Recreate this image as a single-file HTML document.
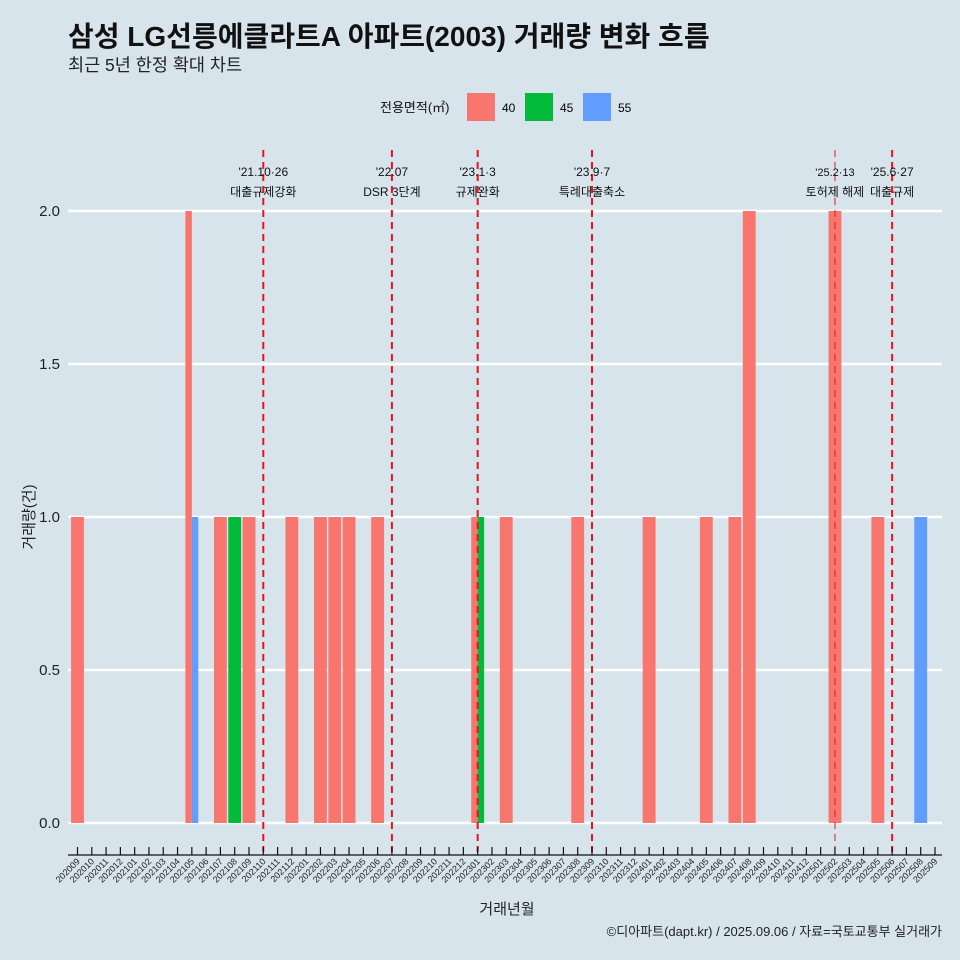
<!DOCTYPE html>
<html><head><meta charset="utf-8"><style>
html,body{margin:0;padding:0;width:960px;height:960px;overflow:hidden;background:#d7e4eb;font-family:"Liberation Sans","Noto Sans CJK KR",sans-serif}
svg{display:block}
svg text{font-family:"Liberation Sans","Noto Sans CJK KR",sans-serif}
</style></head><body>
<svg id="chart" width="960" height="960" viewBox="0 0 960 960">
<rect width="960" height="960" fill="#d7e4eb"/>
<text x="68" y="46" font-size="28" font-weight="bold" fill="#111">삼성 LG선릉에클라트A 아파트(2003) 거래량 변화 흐름</text>
<text x="68" y="71" font-size="17.5" fill="#222">최근 5년 한정 확대 차트</text>
<g>
<text x="380" y="112" font-size="13" fill="#111">전용면적(㎡)</text>
<g><rect x="467" y="93" width="28" height="28" fill="#f8766d"/><text x="502" y="112" font-size="12">40</text></g>
<g><rect x="525" y="93" width="28" height="28" fill="#00ba38"/><text x="560" y="112" font-size="12">45</text></g>
<g><rect x="583" y="93" width="28" height="28" fill="#619cff"/><text x="618" y="112" font-size="12">55</text></g>
</g>
<g id="grid"></g><g id="bars"></g><g id="events"></g><g id="xaxis"></g>
<text x="507" y="914" font-size="15" text-anchor="middle" fill="#222">거래년월</text>
<text transform="translate(34,517) rotate(-90)" font-size="15" text-anchor="middle" fill="#222">거래량(건)</text>
<text x="942" y="936" font-size="13" text-anchor="end" fill="#222">©디아파트(dapt.kr) / 2025.09.06 / 자료=국토교통부 실거래가</text>
</svg>
<script>
const months=[];for(let y=2020,m=9;!(y===2025&&m===10);){months.push(''+y+(m<10?'0':'')+m);m++;if(m>12){m=1;y++;}}
const yTicks=[0,0.5,1,1.5,2];
const barMonths=['202009','202105','202105','202107','202108','202109','202112','202202','202203','202204','202206','202301','202301','202303','202308','202401','202405','202407','202408','202502','202505','202508'];
const barSizes=['40','40','55','40','45','40','40','40','40','40','40','40','45','40','40','40','40','40','40','40','40','55'];
const barCounts=[1,2,1,1,1,1,1,1,1,1,1,1,1,1,1,1,1,1,2,2,1,1];
const eventMonths=['202110','202207','202301','202309','202502','202506'];
const eventDates=["'21.10·26","'22.07","'23.1·3","'23.9·7","'25.2·13","'25.6·27"];
const eventLabels=['대출규제강화','DSR 3단계','규제완화','특례대출축소','토허제 해제','대출규제'];
const colors={'40':'#f8766d','45':'#00ba38','55':'#619cff'};
const NS='http://www.w3.org/2000/svg';
const x0=77.5,step=(935-77.5)/60;
const xs=m=>x0+months.indexOf(m)*step;
const ys=v=>823-v*306;
function mk(t,a,p){const e=document.createElementNS(NS,t);for(const k in a)e.setAttribute(k,a[k]);p.appendChild(e);return e;}
const grid=document.getElementById('grid');
yTicks.forEach(v=>{
 const l=mk('line',{x1:68,x2:942,y1:ys(v),y2:ys(v),stroke:'#fff','stroke-width':2.5},grid);
 
 
 const t=mk('text',{x:60,y:ys(v)+5,'font-size':15,'text-anchor':'end',fill:'#222'},grid);
 t.textContent=v.toFixed(1);
 
 
});
const bars=document.getElementById('bars');
const bw=step*0.9;
barMonths.forEach((m,i)=>{
 const group=barMonths.map((mm,j)=>j).filter(j=>barMonths[j]===m);
 const n=group.length,k=group.indexOf(i),w=bw/n;
 const r=mk('rect',{x:xs(m)-bw/2+k*w,y:ys(barCounts[i]),width:w,height:ys(0)-ys(barCounts[i]),fill:colors[barSizes[i]]},bars);
 
 
});
const ev=document.getElementById('events');
eventMonths.forEach((m,i)=>{
 const x=xs(m);
 const l=mk('line',{x1:x,x2:x,y1:150,y2:852,stroke:'#e8141c','stroke-width':m==='202502'?1:2,'stroke-dasharray':'7,5'},ev);
 
 
 const t1=mk('text',{x:x,y:176,'font-size':m==='202502'?11:12,'text-anchor':'middle',fill:'#111'},ev);
 t1.textContent=eventDates[i];
 
 
 const t2=mk('text',{x:x,y:196,'font-size':12,'text-anchor':'middle',fill:'#111'},ev);
 t2.textContent=eventLabels[i];
 
 
});
const xa=document.getElementById('xaxis');
const al=mk('line',{x1:68,x2:942,y1:855,y2:855,stroke:'#111','stroke-width':1.2},xa);


months.forEach(m=>{
 const x=xs(m);
 const tk=mk('line',{x1:x,x2:x,y1:847,y2:855,stroke:'#111','stroke-width':1.2},xa);
 
 
 const t=mk('text',{transform:`translate(${x+3},862) rotate(-45)`,'font-size':9,'text-anchor':'end',fill:'#222'},xa);
 t.textContent=m;
 
 
});
</script>
</body></html>
